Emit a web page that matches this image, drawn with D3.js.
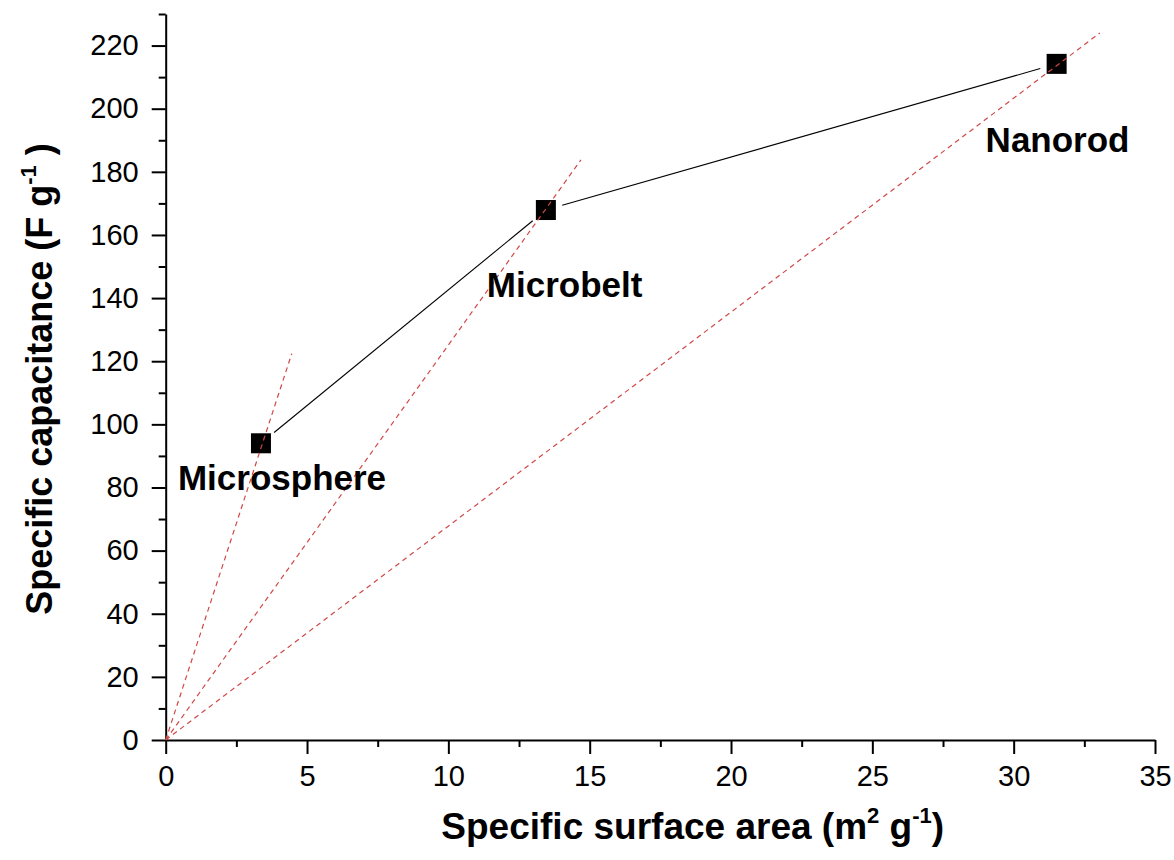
<!DOCTYPE html>
<html>
<head>
<meta charset="utf-8">
<script src="https://cdn.jsdelivr.net/npm/d3@7"></script>
<style>
  body { margin: 0; background: #fff; }
  text { font-family: Arial, "Liberation Sans", Helvetica, sans-serif; }
</style>
</head>
<body>
<div id="chart"></div>
<script>
// data
const samples = ["Microsphere", "Microbelt", "Nanorod"];
const surfaceArea = [3.37, 13.45, 31.52];
const capacitance = [94.0, 167.9, 214.2];

// dashed guide lines from the origin, end points
const guideEndX = [4.46, 14.69, 33.05];
const guideEndY = [122.4, 183.8, 224.0];

const xTicks = [0, 5, 10, 15, 20, 25, 30, 35];
const yTicks = [0, 20, 40, 60, 80, 100, 120, 140, 160, 180, 200, 220];

const svgWidth = 1174;
const svgHeight = 860;
const margin = { top: 14, right: 19, bottom: 120, left: 165.7 };
const width = svgWidth - margin.left - margin.right;
const height = svgHeight - margin.top - margin.bottom;

const svg = d3.select("#chart")
    .append("svg")
    .attr("width", svgWidth)
    .attr("height", svgHeight)
    .append("g")
    .attr("transform", "translate(" + margin.left + "," + margin.top + ")");

const xScale = d3.scaleLinear()
    .domain([0, 35])
    .range([0, width]);

const yScale = d3.scaleLinear()
    .domain([0, 230])
    .range([height, 0]);

// minor ticks
svg.append("g")
    .attr("transform", "translate(0," + height + ")")
    .call(d3.axisBottom(xScale).tickValues(d3.range(2.5, 35, 5)).tickSize(7).tickFormat(""))
    .call(g => g.select(".domain").remove());

svg.append("g")
    .call(d3.axisLeft(yScale).tickValues(d3.range(10, 231, 20)).tickSize(7).tickFormat(""))
    .call(g => g.select(".domain").remove());

// major ticks
const xAxis = svg.append("g")
    .attr("transform", "translate(0," + height + ")")
    .call(d3.axisBottom(xScale).tickValues(xTicks).tickSize(14).tickSizeOuter(0).tickPadding(11));

const yAxis = svg.append("g")
    .call(d3.axisLeft(yScale).tickValues(yTicks).tickSize(14).tickSizeOuter(0).tickPadding(13));

svg.selectAll(".tick line").attr("stroke", "#000").attr("stroke-width", 2);
svg.selectAll(".domain").attr("stroke", "#000").attr("stroke-width", 2);
svg.selectAll(".tick text")
    .attr("font-size", 29)
    .attr("font-family", "Arial, 'Liberation Sans', sans-serif")
    .attr("fill", "#000");

// connecting line, with a small gap at each marker
const pts = samples.map((s, i) => [xScale(surfaceArea[i]), yScale(capacitance[i])]);
const gap = 17;
for (let i = 0; i < pts.length - 1; i++) {
    const a = pts[i], b = pts[i + 1];
    const dx = b[0] - a[0], dy = b[1] - a[1];
    const len = Math.sqrt(dx * dx + dy * dy);
    svg.append("line")
        .attr("x1", a[0] + dx / len * gap)
        .attr("y1", a[1] + dy / len * gap)
        .attr("x2", b[0] - dx / len * gap)
        .attr("y2", b[1] - dy / len * gap)
        .attr("stroke", "#000")
        .attr("stroke-width", 1.1);
}

// square markers
svg.selectAll("rect.marker")
    .data(samples)
    .enter().append("rect")
    .attr("class", "marker")
    .attr("x", (d, i) => xScale(surfaceArea[i]) - 10)
    .attr("y", (d, i) => yScale(capacitance[i]) - 10)
    .attr("width", 20)
    .attr("height", 20)
    .attr("fill", "#000");

// red dashed guides
svg.selectAll("line.guide")
    .data(samples)
    .enter().append("line")
    .attr("class", "guide")
    .attr("x1", xScale(0))
    .attr("y1", yScale(0))
    .attr("x2", (d, i) => xScale(guideEndX[i]))
    .attr("y2", (d, i) => yScale(guideEndY[i]))
    .attr("stroke", "#d04848")
    .attr("stroke-width", 1.2)
    .attr("stroke-dasharray", "5,4");

// sample labels, offset from their markers
const labelOffset = { Microsphere: [-83, 47], Microbelt: [-59, 87], Nanorod: [-71, 88] };
svg.selectAll("text.label")
    .data(samples)
    .enter().append("text")
    .attr("class", "label")
    .attr("x", (d, i) => xScale(surfaceArea[i]) + labelOffset[d][0])
    .attr("y", (d, i) => yScale(capacitance[i]) + labelOffset[d][1])
    .attr("font-size", 35)
    .attr("font-weight", "bold")
    .attr("fill", "#000")
    .text(d => d);

// axis titles
const xTitle = svg.append("text")
    .attr("x", 527)
    .attr("y", height + 99)
    .attr("text-anchor", "middle")
    .attr("font-size", 37)
    .attr("font-weight", "bold");
xTitle.append("tspan").text("Specific surface area (m");
xTitle.append("tspan").attr("dy", -16).attr("font-size", 22).text("2");
xTitle.append("tspan").attr("dy", 16).text(" g");
xTitle.append("tspan").attr("dy", -16).attr("font-size", 22).text("-1");
xTitle.append("tspan").attr("dy", 16).text(")");

const yTitle = svg.append("text")
    .attr("transform", "translate(" + (52 - margin.left) + "," + (379 - margin.top) + ") rotate(-90)")
    .attr("text-anchor", "middle")
    .attr("font-size", 36)
    .attr("font-weight", "bold");
yTitle.append("tspan").text("Specific capacitance (F g");
yTitle.append("tspan").attr("dy", -16).attr("font-size", 22).text("-1");
yTitle.append("tspan").attr("dy", 16).text(" )");
</script>
</body>
</html>
